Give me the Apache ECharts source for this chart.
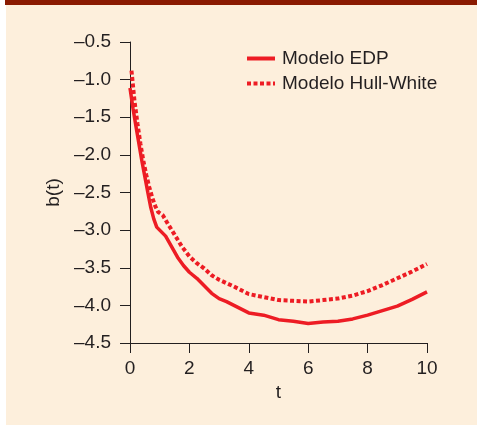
<!DOCTYPE html>
<html>
<head>
<meta charset="utf-8">
<script src="https://cdn.jsdelivr.net/npm/echarts@6/dist/echarts.min.js"></script>
<style>
html,body{margin:0;padding:0;background:#ffffff;}
#chart{width:477px;height:425px;}
</style>
</head>
<body>
<div id="chart"></div>
<script>
// Data
const seriesNames = ['Modelo EDP', 'Modelo Hull-White'];
const edpT = [0, 0.1, 0.2, 0.3, 0.4, 0.5, 0.6, 0.7, 0.8, 0.9, 1.0, 1.2, 1.4, 1.6, 1.8, 2.0, 2.25, 2.5, 2.75, 3.0, 3.25, 3.5, 4.0, 4.5, 5.0, 5.5, 6.0, 6.5, 7.0, 7.5, 8.0, 8.5, 9.0, 9.5, 10];
const edpB = [-1.11, -1.38, -1.62, -1.85, -2.08, -2.29, -2.50, -2.70, -2.85, -2.96, -3.00, -3.08, -3.22, -3.36, -3.47, -3.56, -3.64, -3.74, -3.84, -3.91, -3.95, -4.00, -4.10, -4.13, -4.19, -4.21, -4.24, -4.22, -4.21, -4.18, -4.13, -4.07, -4.01, -3.92, -3.82];
const hwT = [0.05, 0.15, 0.25, 0.35, 0.45, 0.55, 0.65, 0.75, 0.85, 0.95, 1.1, 1.25, 1.5, 1.75, 2.0, 2.25, 2.5, 2.75, 3.0, 3.5, 4.0, 4.5, 5.0, 5.5, 6.0, 6.5, 7.0, 7.5, 8.0, 8.5, 9.0, 9.5, 10];
const hwB = [-0.88, -1.28, -1.58, -1.85, -2.08, -2.27, -2.43, -2.57, -2.68, -2.76, -2.80, -2.90, -3.06, -3.22, -3.35, -3.44, -3.51, -3.60, -3.66, -3.75, -3.85, -3.89, -3.93, -3.94, -3.95, -3.93, -3.91, -3.87, -3.81, -3.73, -3.64, -3.55, -3.45];
const xTicks = [0, 2, 4, 6, 8, 10];
const yTicks = [-4.5, -4.0, -3.5, -3.0, -2.5, -2.0, -1.5, -1.0, -0.5];
const xTitle = 't';
const yTitle = 'b(t)';

const red = '#ED1C24';
const ink = '#231F20';
const font = 'Liberation Sans, Arial, Helvetica, sans-serif';
const fs = 19;

const chart = echarts.init(document.getElementById('chart'), null, {renderer: 'canvas'});
const fmtY = v => (v < 0 ? '\u2013' : '') + Math.abs(v).toFixed(1);

chart.setOption({
  animation: false,
  backgroundColor: 'transparent',
  graphic: [
    {type: 'rect', z: -10, silent: true, shape: {x: 6, y: 0, width: 471, height: 425}, style: {fill: '#FDEFDC'}},
    {type: 'rect', z: -9, silent: true, shape: {x: 5, y: 0, width: 472, height: 5}, style: {fill: '#8A1A00'}}
  ],
  grid: {left: 130, right: 50, top: 42, bottom: 82, containLabel: false},
  legend: {
    orient: 'vertical',
    left: 245,
    top: 49,
    padding: 0,
    itemWidth: 28,
    itemHeight: 17,
    itemGap: 6,
    data: seriesNames,
    itemStyle: {opacity: 0},
    lineStyle: {width: 4},
    textStyle: {fontFamily: font, fontSize: fs, color: ink, padding: [0, 0, 0, 2]}
  },
  xAxis: {
    type: 'value',
    min: xTicks[0],
    max: xTicks[xTicks.length - 1],
    interval: 2,
    name: xTitle,
    nameLocation: 'middle',
    nameGap: 40,
    nameTextStyle: {fontFamily: font, fontSize: fs, color: ink},
    axisLine: {show: true, onZero: false, lineStyle: {color: ink, width: 1}},
    axisTick: {show: true, inside: false, length: 10, lineStyle: {color: ink, width: 1}},
    axisLabel: {fontFamily: font, fontSize: fs, color: ink, margin: 16},
    splitLine: {show: false}
  },
  yAxis: {
    type: 'value',
    min: yTicks[0],
    max: yTicks[yTicks.length - 1],
    interval: 0.5,
    name: yTitle,
    nameLocation: 'middle',
    nameGap: 67,
    nameRotate: 90,
    nameTextStyle: {fontFamily: font, fontSize: fs, color: ink},
    axisLine: {show: true, onZero: false, lineStyle: {color: ink, width: 1}},
    axisTick: {show: true, inside: false, length: 10, lineStyle: {color: ink, width: 1}},
    axisLabel: {fontFamily: font, fontSize: fs, color: ink, margin: 19, formatter: fmtY},
    splitLine: {show: false}
  },
  series: [
    {
      name: seriesNames[0],
      type: 'line',
      data: edpT.map((t, i) => [t, edpB[i]]),
      showSymbol: false,
      symbol: 'none',
      smooth: false,
      lineStyle: {color: red, width: 3.5},
      itemStyle: {color: red}
    },
    {
      name: seriesNames[1],
      type: 'line',
      data: hwT.map((t, i) => [t, hwB[i]]),
      showSymbol: false,
      symbol: 'none',
      smooth: false,
      lineStyle: {color: red, width: 4, type: [4, 2.5], cap: 'butt'},
      itemStyle: {color: red}
    }
  ]
});
</script>
</body>
</html>
